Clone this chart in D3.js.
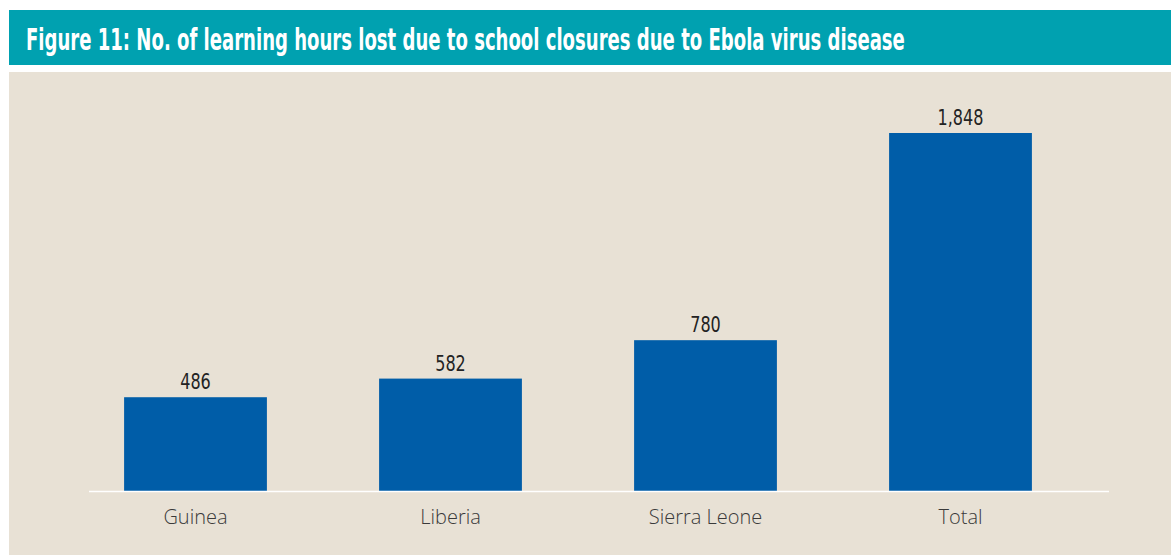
<!DOCTYPE html>
<html>
<head>
<meta charset="utf-8">
<script src="https://cdn.jsdelivr.net/npm/d3@7"></script>
<style>
  html, body { margin: 0; padding: 0; background: #ffffff; }
  svg { display: block; }
</style>
</head>
<body>
<div id="chart"></div>
<script>
const titleText = 'Figure 11: No. of learning hours lost due to school closures due to Ebola virus disease';
const categories = ['Guinea', 'Liberia', 'Sierra Leone', 'Total'];
const hoursLost = [486, 582, 780, 1848];

const width = 1171;
const height = 555;

const svg = d3
    .select('#chart')
    .append('svg')
    .attr('width', width)
    .attr('height', height);

// header band
svg.append('rect')
    .attr('x', 9).attr('y', 10)
    .attr('width', width - 9).attr('height', 55)
    .attr('fill', '#00a1b0');

// title: condensed bold, squeezed horizontally to the reference width
const titleG = svg.append('g');
const title = titleG.append('text')
    .attr('x', 0)
    .attr('y', 0)
    .attr('fill', '#ffffff')
    .attr('font-family', '"Liberation Sans Narrow", "DejaVu Sans Condensed", "Roboto", sans-serif')
    .attr('font-weight', 'bold')
    .attr('font-size', 31)
    .text(titleText);
const naturalW = title.node().getComputedTextLength();
const sx = Math.min(1, 879 / naturalW);
titleG.attr('transform', `translate(26, 50) scale(${sx}, 1)`);

// beige panel
svg.append('rect')
    .attr('x', 9).attr('y', 72)
    .attr('width', width - 9).attr('height', height - 72)
    .attr('fill', '#e8e1d5');

const data = categories.map((c, i) => ({ name: c, value: hoursLost[i] }));

const xScale = d3.scaleBand()
    .domain(categories)
    .range([68, 1088])
    .paddingInner(0.44)
    .paddingOuter(0.22);

const yScale = d3.scaleLinear()
    .domain([0, d3.max(hoursLost)])
    .range([491.5, 133]);

svg.append('g')
    .selectAll('rect')
    .data(data)
    .join('rect')
    .attr('x', (d) => xScale(d.name))
    .attr('y', (d) => yScale(d.value))
    .attr('width', xScale.bandwidth())
    .attr('height', (d) => yScale(0) - yScale(d.value))
    .attr('fill', '#005da8');

// baseline
svg.append('line')
    .attr('x1', 89).attr('x2', 1109)
    .attr('y1', 491.5).attr('y2', 491.5)
    .attr('stroke', '#ffffff')
    .attr('stroke-width', 1.5);

// value labels
svg.append('g')
    .selectAll('g')
    .data(data)
    .join('g')
    .attr('transform', (d) => `translate(${xScale(d.name) + xScale.bandwidth() / 2}, ${yScale(d.value) - 8}) scale(0.85, 1)`)
    .append('text')
    .attr('text-anchor', 'middle')
    .attr('fill', '#232323')
    .attr('font-family', '"Liberation Sans Narrow", "DejaVu Sans Condensed", sans-serif')
    .attr('font-size', 21)
    .text((d) => d3.format(',')(d.value));

// category axis labels
const xAxis = d3.axisBottom(xScale).tickSize(0).tickPadding(0);
const axisG = svg.append('g')
    .attr('transform', 'translate(0, 524)')
    .call(xAxis);
axisG.select('.domain').remove();
axisG.selectAll('text')
    .attr('dy', 0)
    .attr('fill', '#3a3a3a')
    .attr('font-family', '"Open Sans", "Noto Sans", sans-serif')
    .attr('font-weight', 300)
    .attr('font-size', 20);
</script>
</body>
</html>
